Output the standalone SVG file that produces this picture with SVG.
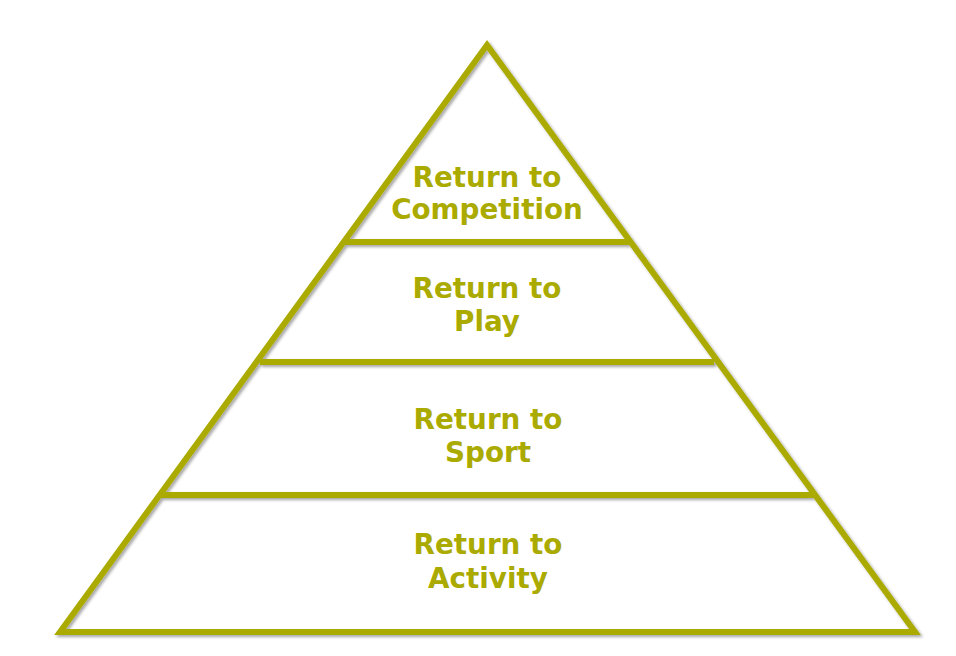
<svg xmlns="http://www.w3.org/2000/svg" width="956" height="656" viewBox="0 0 956 656">
<defs>
<filter id="sh" x="-5%" y="-5%" width="110%" height="110%">
<feDropShadow dx="2" dy="2" stdDeviation="1.5" flood-color="#000" flood-opacity="0.35"/>
</filter>
<style>
.ln{stroke:#aaaa00;stroke-width:6;fill:none}
.tx{font-family:"DejaVu Sans",Verdana,sans-serif;font-weight:bold;font-size:27.8px;fill:#aaaa00;text-anchor:middle}
</style>
</defs>
<rect width="956" height="656" fill="#fff"/>
<g id="connectors" filter="url(#sh)">
<polygon class="ln" points="487,45 915,632 60,632" stroke-linejoin="miter"/>
<line class="ln" x1="345" y1="242" x2="630" y2="242"/>
<line class="ln" x1="260" y1="362" x2="714" y2="362"/>
<line class="ln" x1="160" y1="495" x2="814" y2="495"/>
</g>
<g id="competition"><text class="tx" x="487" y="187">Return to</text><text class="tx" x="487" y="219">Competition</text></g>
<g id="play"><text class="tx" x="487" y="298">Return to</text><text class="tx" x="487" y="331">Play</text></g>
<g id="sport"><text class="tx" x="488" y="429">Return to</text><text class="tx" x="488" y="462">Sport</text></g>
<g id="activity"><text class="tx" x="488" y="554">Return to</text><text class="tx" x="488" y="588">Activity</text></g>
</svg>
